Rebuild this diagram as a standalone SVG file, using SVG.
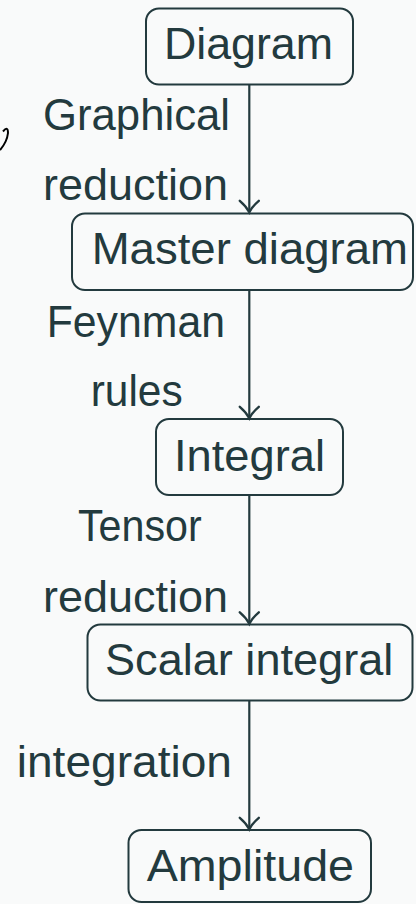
<svg xmlns="http://www.w3.org/2000/svg" xmlns:xlink="http://www.w3.org/1999/xlink" width="416" height="904" viewBox="0 0 416 904">
<style>
.box{fill:none;stroke:#233a3e;stroke-width:2}
.t{font-family:"Liberation Sans","Open Sans",sans-serif;font-size:45px;fill:#233a3e}
.c{stroke:#233a3e;stroke-width:2.2;fill:none}
.ah{stroke:#233a3e;stroke-width:2.4;fill:none;stroke-linecap:round}
</style>
<defs>
<path id="ah" d="M-9.5,-11.5 Q-3,-6 0,0 Q3,-6 9.5,-11.5"/>
</defs>
<rect width="416" height="904" fill="#f9fafa"/>
<path d="M3,131.5 Q8,125.5 8,133 Q7,142 0,150" fill="none" stroke="#000" stroke-width="2"/>
<g id="connectors">
<line class="c" x1="249.3" y1="84.3" x2="249.3" y2="212"/>
<use xlink:href="#ah" class="ah" transform="translate(249.3,212.3)"/>
<line class="c" x1="249.3" y1="290" x2="249.3" y2="418"/>
<use xlink:href="#ah" class="ah" transform="translate(249.3,418.3)"/>
<line class="c" x1="249.3" y1="495" x2="249.3" y2="623.5"/>
<use xlink:href="#ah" class="ah" transform="translate(249.3,623.8)"/>
<line class="c" x1="249.3" y1="700.7" x2="249.3" y2="829"/>
<use xlink:href="#ah" class="ah" transform="translate(249.3,829.3)"/>
<text class="t" x="43" y="130" textLength="187" lengthAdjust="spacingAndGlyphs">Graphical</text>
<text class="t" x="43" y="200" textLength="185" lengthAdjust="spacingAndGlyphs">reduction</text>
<text class="t" x="46.7" y="336.7" textLength="178.3" lengthAdjust="spacingAndGlyphs">Feynman</text>
<text class="t" x="90.7" y="405.7" textLength="92" lengthAdjust="spacingAndGlyphs">rules</text>
<text class="t" x="78" y="541" textLength="123.7" lengthAdjust="spacingAndGlyphs">Tensor</text>
<text class="t" x="43" y="611.7" textLength="185" lengthAdjust="spacingAndGlyphs">reduction</text>
<text class="t" x="16.7" y="777.3" textLength="215.3" lengthAdjust="spacingAndGlyphs">integration</text>
</g>
<g id="diagram">
<rect class="box" x="146" y="8.5" width="207" height="76" rx="13"/>
<text class="t" x="164" y="58.7" textLength="169" lengthAdjust="spacingAndGlyphs">Diagram</text>
</g>
<g id="master">
<rect class="box" x="72" y="213.5" width="341" height="76.5" rx="13"/>
<text class="t" x="91.7" y="264" textLength="316.3" lengthAdjust="spacingAndGlyphs">Master diagram</text>
</g>
<g id="integral">
<rect class="box" x="156" y="419" width="187" height="76" rx="13"/>
<text class="t" x="174" y="470.5" textLength="151" lengthAdjust="spacingAndGlyphs">Integral</text>
</g>
<g id="scalar">
<rect class="box" x="87.5" y="624.5" width="325" height="76" rx="13"/>
<text class="t" x="105" y="675" textLength="288.3" lengthAdjust="spacingAndGlyphs">Scalar integral</text>
</g>
<g id="amplitude">
<rect class="box" x="128.5" y="830" width="242.5" height="72" rx="13"/>
<text class="t" x="146.7" y="880.5" textLength="207.3" lengthAdjust="spacingAndGlyphs">Amplitude</text>
</g>
</svg>
